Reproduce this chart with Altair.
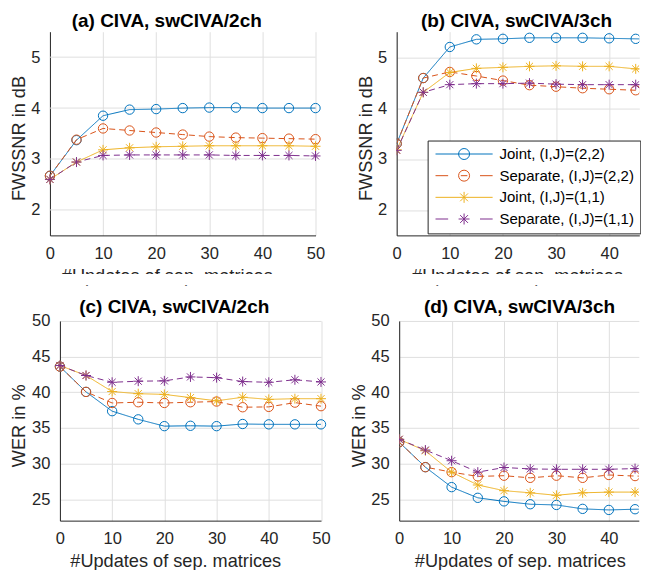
import altair as alt
import pandas as pd

X = [0, 5, 10, 15, 20, 25, 30, 35, 40, 45, 50]
SERIES = ["Joint, (I,J)=(2,2)", "Separate, (I,J)=(2,2)",
          "Joint, (I,J)=(1,1)", "Separate, (I,J)=(1,1)"]
COLORS = ["#0072BD", "#D95319", "#EDB120", "#7E2F8E"]

# (a) FWSSNR, 2ch
A_J22 = [2.67, 3.37, 3.85, 3.97, 3.98, 4.00, 4.01, 4.01, 4.00, 4.00, 4.00]
A_S22 = [2.67, 3.38, 3.60, 3.56, 3.52, 3.48, 3.44, 3.42, 3.41, 3.40, 3.39]
A_J11 = [2.60, 2.94, 3.18, 3.22, 3.24, 3.25, 3.26, 3.26, 3.26, 3.26, 3.25]
A_S11 = [2.60, 2.94, 3.07, 3.08, 3.08, 3.08, 3.08, 3.07, 3.07, 3.07, 3.06]
# (b) FWSSNR, 3ch
B_J22 = [3.30, 4.59, 5.20, 5.35, 5.36, 5.38, 5.38, 5.38, 5.37, 5.36, 5.35]
B_S22 = [3.30, 4.59, 4.71, 4.63, 4.54, 4.45, 4.42, 4.39, 4.37, 4.35, 4.34]
B_J11 = [3.18, 4.31, 4.70, 4.78, 4.80, 4.82, 4.83, 4.82, 4.82, 4.77, 4.76]
B_S11 = [3.17, 4.31, 4.46, 4.48, 4.48, 4.49, 4.47, 4.46, 4.46, 4.46, 4.46]
# (c) WER, 2ch
C_J22 = [43.6, 40.05, 37.35, 36.2, 35.25, 35.3, 35.25, 35.55, 35.5, 35.5, 35.5]
C_S22 = [43.6, 40.05, 38.5, 38.6, 38.5, 38.6, 38.7, 37.9, 37.95, 38.55, 38.05]
C_J11 = [43.75, 42.35, 40.1, 39.8, 39.7, 39.25, 38.8, 39.3, 39.0, 39.1, 39.1]
C_S11 = [43.75, 42.35, 41.4, 41.55, 41.6, 42.15, 42.05, 41.5, 41.4, 41.75, 41.45]
# (d) WER, 3ch
D_J22 = [33.0, 29.5, 26.7, 25.2, 24.7, 24.3, 24.2, 23.65, 23.5, 23.6, 23.6]
D_S22 = [33.0, 29.5, 28.8, 28.2, 28.3, 28.0, 28.3, 28.0, 28.4, 28.25, 28.2]
D_J11 = [33.4, 31.8, 28.8, 27.0, 26.2, 25.9, 25.55, 25.9, 26.0, 26.0, 26.0]
D_S11 = [33.4, 31.9, 30.4, 28.8, 29.45, 29.25, 29.2, 29.2, 29.2, 29.3, 29.3]

TITLES = ["(a) CIVA, swCIVA/2ch", "(b) CIVA, swCIVA/3ch",
          "(c) CIVA, swCIVA/2ch", "(d) CIVA, swCIVA/3ch"]
XTITLE = "#Updates of sep. matrices"
YTITLE_TOP = "FWSSNR in dB"
YTITLE_BOT = "WER in %"
XTICKS_FULL = [0, 10, 20, 30, 40, 50]
YTICKS_TOP = [2, 3, 4, 5]
YTICKS_BOT = [25, 30, 35, 40, 45, 50]

FONT = "Liberation Sans"
DARK = "#262626"
GRID = "#dfdfdf"

STAR = "M-1,0L1,0M0,-1L0,1M-0.71,-0.71L0.71,0.71M-0.71,0.71L0.71,-0.71"
LEG_SHAPES = [
    "M-5.2,0L5.2,0M1,0A1,1,0,1,1,-1,0A1,1,0,1,1,1,0",
    "M-5.2,0L-2.9,0M2.9,0L5.2,0M-0.6,0L0.6,0M1,0A1,1,0,1,1,-1,0A1,1,0,1,1,1,0",
    "M-5.2,0L5.2,0M0,-1L0,1M-0.71,-0.71L0.71,0.71M-0.71,0.71L0.71,-0.71",
    "M-5.2,0L-2.9,0M2.9,0L5.2,0M-1,0L1,0M0,-1L0,1M-0.71,-0.71L0.71,0.71M-0.71,0.71L0.71,-0.71",
]
# plot-side scales get an extra unused key so their (hidden) legends never merge
# with the visible color/shape legend
PLOT_DOMAIN = SERIES + ["-"]


def long_df(vals):
    rows = []
    for s, ys in zip(SERIES, vals):
        for x, y in zip(X, ys):
            rows.append({"series": s, "x": x, "y": y})
    return pd.DataFrame(rows)


def panel(vals, title, tdx, toff, ytitle, ydom, yticks, xmax, W, H,
          xtx, ytx, clip, legend, top, shift=0, legx=0.0):
    """shift: pixels by which the x=0 position lies left of the panel origin"""
    df = long_df(vals)
    if shift:
        xscale = alt.Scale(domain=[0, xmax], nice=False, zero=False, range=[-shift, W])
    else:
        xscale = alt.Scale(domain=[0, xmax], nice=False, zero=False)
    xenc = alt.X("x:Q", scale=xscale,
                 axis=alt.Axis(values=[v for v in XTICKS_FULL if v <= xmax],
                               title=XTITLE, titleX=xtx, titleY=46,
                               titleBaseline="alphabetic", titleAlign="center",
                               labelFlush=False))
    yenc = alt.Y("y:Q", scale=alt.Scale(domain=ydom, nice=False, zero=False),
                 axis=alt.Axis(values=yticks, title=ytitle, titleX=ytx,
                               titleY=H / 2 + 4.5, titleAngle=270,
                               titleBaseline="alphabetic", titleAlign="center",
                               offset=shift, grid=not shift, format="d"))
    stroke = alt.Stroke("series:N", scale=alt.Scale(domain=PLOT_DOMAIN, range=COLORS + ["#000000"]),
                        legend=None)
    dash = alt.StrokeDash("series:N",
                          scale=alt.Scale(domain=PLOT_DOMAIN,
                                          range=[[1, 0], [6, 4], [1, 0], [6, 4], [1, 0]]),
                          legend=None)
    base = alt.Chart(df)
    layers = []
    if shift:
        gdf = pd.DataFrame({"y": yticks, "x": [0] * len(yticks), "x2": [xmax] * len(yticks)})
        grid = alt.Chart(gdf).mark_rule(color=GRID, strokeWidth=1).encode(
            x=xenc, x2=alt.X2("x2"), y=yenc)
        layers.append(grid)
    lines = base.mark_line(strokeWidth=1, clip=clip).encode(
        x=xenc, y=yenc, stroke=stroke, strokeDash=dash)
    circ = base.transform_filter(
        alt.FieldOneOfPredicate(field="series", oneOf=SERIES[:2])
    ).mark_point(shape="circle", filled=False, size=88, strokeWidth=1, opacity=1, clip=clip).encode(
        x=xenc, y=yenc, stroke=stroke)
    stars = base.transform_filter(
        alt.FieldOneOfPredicate(field="series", oneOf=SERIES[2:])
    ).mark_point(shape=STAR, filled=False, size=100, strokeWidth=1, opacity=1, clip=clip).encode(
        x=xenc, y=yenc, stroke=stroke)
    layers += [lines, circ, stars]
    if top:
        mask = alt.Chart(pd.DataFrame({"m": [0]})).mark_rect(color="white").encode(
            x=alt.value(-shift), x2=alt.value(W), y=alt.value(H + 38.7), y2=alt.value(H + 50))
        layers.append(mask)
    if legend:
        leg = alt.Legend(title=None, orient="none", legendX=legx, legendY=109,
                         fillColor="white", strokeColor=DARK, padding=6,
                         symbolSize=121, symbolStrokeWidth=1, symbolOffset=23,
                         symbolOpacity=1, labelAlign="left",
                         labelOffset=28, labelFontSize=15, labelFont=FONT,
                         labelColor="#000000", rowPadding=5.7, labelLimit=400)
        legl = base.mark_point(filled=False, strokeWidth=1, opacity=0, clip=True).encode(
            x=xenc, y=yenc,
            color=alt.Color("series:N", scale=alt.Scale(domain=SERIES, range=COLORS), legend=leg),
            shape=alt.Shape("series:N", scale=alt.Scale(domain=SERIES, range=LEG_SHAPES), legend=leg))
        layers.append(legl)
    return alt.layer(*layers).properties(
        width=W, height=H,
        title=alt.TitleParams(title, dx=tdx, offset=toff))


WA = 256
WB = 243.0
WD = 240.0
pa = panel([A_J22, A_S22, A_J11, A_S11], TITLES[0], 107 - WA / 2, 1.0, YTITLE_TOP, [1.5, 5.5],
           YTICKS_TOP, 50, WA, 204, 107, -25.5, False, False, True, shift=10)
pb = panel([B_J22, B_S22, B_J11, B_S11], TITLES[1], 120 - WB / 2, 1.0, YTITLE_TOP, [1.5, 5.5],
           YTICKS_TOP, WB / 5.32, WB, 204, 120.5, -25, True, True, True, legx=31)
pc = panel([C_J22, C_S22, C_J11, C_S11], TITLES[2], -16.25, -4.5, YTITLE_BOT, [22, 50],
           YTICKS_BOT, 50, 261.5, 200, 115.5, -35.5, False, False, False)
pd_ = panel([D_J22, D_S22, D_J11, D_S11], TITLES[3], 120.5 - WD / 2, -4.5, YTITLE_BOT, [22, 50],
            YTICKS_BOT, WD / 5.25, WD, 200, 120.8, -35, True, False, False)

row1 = alt.hconcat(pa, pb, spacing=31.3).resolve_scale(
    color="independent", shape="independent", stroke="independent", strokeDash="independent")
row2 = alt.hconcat(pc, pd_, spacing=18.8).resolve_scale(
    color="independent", shape="independent", stroke="independent", strokeDash="independent")

chart = alt.concat(row1, row2, columns=1, align="none", spacing=12.7).resolve_scale(
    color="independent", shape="independent", stroke="independent", strokeDash="independent"
).properties(
    padding={"left": 1.0, "top": 3.3, "right": 0, "bottom": 0},
    background="white",
).configure_view(stroke=None).configure_axis(
    labelFont=FONT, labelFontSize=16.5, labelColor=DARK, labelPadding=10,
    titleFont=FONT, titleFontSize=18.2, titleColor=DARK, titleFontWeight="normal",
    domainColor=DARK, domainWidth=1, gridColor=GRID, gridWidth=1,
    ticks=False,
).configure_title(
    font=FONT, fontSize=19, fontWeight="bold", color="#000000", anchor="middle",
)

chart.save("out.html", embed_options={"renderer": "svg", "actions": False})
